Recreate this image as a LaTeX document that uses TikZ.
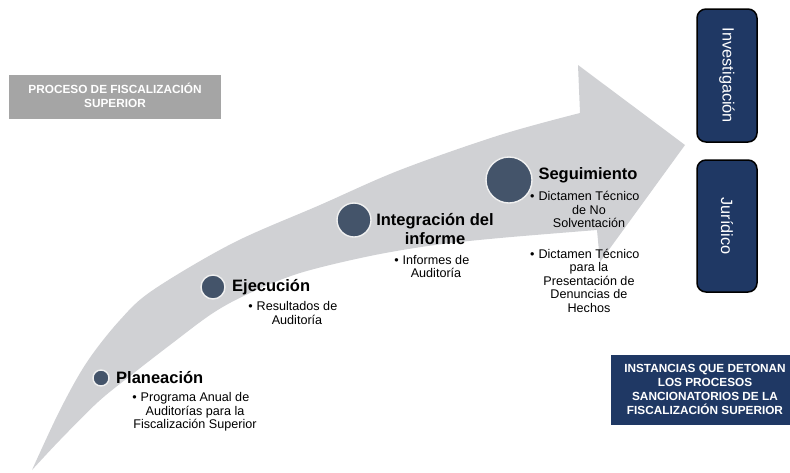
\documentclass[tikz,border=0pt]{standalone}
\usepackage{fontspec}
\setmainfont{Liberation Sans}
\definecolor{arrowfill}{HTML}{D0D1D4}
\definecolor{circ}{HTML}{44546A}
\definecolor{rim}{HTML}{F0F0F0}
\definecolor{navy}{HTML}{1F3864}
\definecolor{boxgray}{HTML}{A5A5A5}
\begin{document}
\begin{tikzpicture}[x=1pt,y=-1pt,
  stage/.style={circle, fill=circ, draw=rim, line width=1.4pt, inner sep=0pt},
  ttl/.style={font=\bfseries\fontsize{16.5}{19}\selectfont, inner sep=0pt, align=center},
  sub/.style={font=\fontsize{12.6}{13.5}\selectfont, inner sep=0pt, align=center},
  caps/.style={font=\bfseries\fontsize{11.8}{14}\selectfont, text=white, inner sep=0pt, align=center},
  vbox/.style={rounded corners=9pt, fill=navy, draw=black, line width=1.5pt},
  vtext/.style={font=\fontsize{16.3}{19}\selectfont, text=white, rotate=-90, inner sep=0pt}]
\useasboundingbox (0,0) rectangle (790,472);
% curved arrow
\fill[arrowfill] plot[smooth, tension=0.55] coordinates {(32,470) (60,410) (87,362) (120,320) (153,290) (233,243) (320,205) (400,170) (500,135) (580,113)}
  -- (578,65) -- (685,145) -- (600,262) -- (597,230)
  -- plot[smooth, tension=0.55] coordinates {(597,230) (500,238) (435,245) (370,256) (300,273) (250,293) (213,313) (170,345) (130,376) (98,402) (60,440) (32,470)} -- cycle;
% stages
\node[stage, minimum size=16pt] (c1) at (101,378) {};
\node[stage, minimum size=24pt] (c2) at (213,287) {};
\node[stage, minimum size=34pt] (c3) at (354,220) {};
\node[stage, minimum size=46pt] (c4) at (509,180) {};
\node[ttl, anchor=west] (t1) at (116,378) {Planeación};
\node[ttl, anchor=west] (t2) at (232,287) {Ejecución};
\node[ttl] (t3) at (435,229) {Integración del\\informe};
\node[ttl] (t4) at (588,175) {Seguimiento};
\node[sub] (s1) at (195,412) {\llap{•\hspace{4pt}}Programa Anual de\\Auditorías para la\\Fiscalización Superior};
\node[sub] (s2) at (297,313) {\llap{•\hspace{4pt}}Resultados de\\Auditoría};
\node[sub] (s3) at (436,266.5) {\llap{•\hspace{4pt}}Informes de\\Auditoría};
\node[sub] (s4) at (589,209.5) {\llap{•\hspace{4pt}}Dictamen Técnico\\de No\\Solventación};
\node[sub] (s5) at (589,280.5) {\llap{•\hspace{4pt}}Dictamen Técnico\\para la\\Presentación de\\Denuncias de\\Hechos};
% boxes
\fill[boxgray] (9,75) rectangle (221,119);
\node[caps] (g) at (115,95) {PROCESO DE FISCALIZACIÓN\\SUPERIOR};
\draw[vbox] (697,9) rectangle (757,142);
\node[vtext] (inv) at (727,75.5) {Investigación};
\draw[vbox] (697,160) rectangle (757,292);
\node[vtext] (jur) at (727,226) {Jurídico};
\fill[navy] (611,355) rectangle (790,425);
\node[caps] (ins) at (705,389) {INSTANCIAS QUE DETONAN\\LOS PROCESOS\\SANCIONATORIOS DE LA\\FISCALIZACIÓN SUPERIOR};
\end{tikzpicture}
\end{document}
